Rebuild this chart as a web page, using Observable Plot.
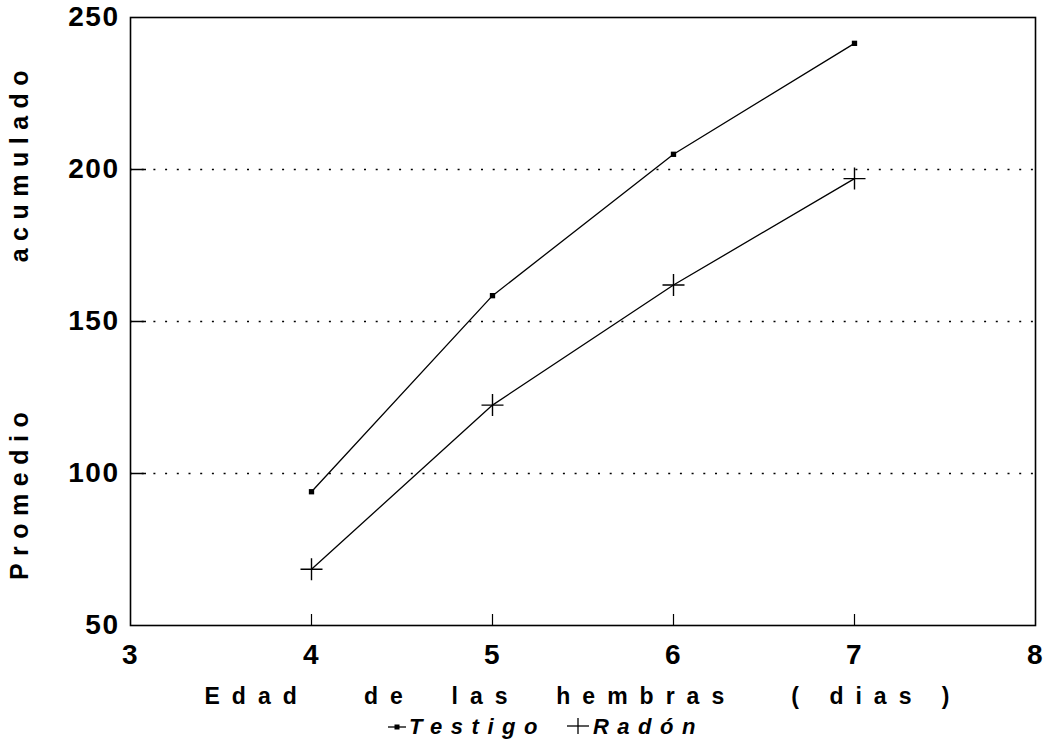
<!DOCTYPE html>
<html>
<head>
<meta charset="utf-8">
<script src="https://cdn.jsdelivr.net/npm/d3@7"></script>
<script src="https://cdn.jsdelivr.net/npm/@observablehq/plot@0.6"></script>
<style>
  html, body { margin: 0; padding: 0; background: #fff; }
  body { width: 1055px; height: 752px; overflow: hidden; font-family: "Liberation Sans", Arial, sans-serif; }
  #chart svg text { white-space: pre; }
  #chart g[aria-label="x-axis label"] text { font-size: 23px; letter-spacing: 12px; }
  #chart g[aria-label="y-axis label"] text { font-size: 25px; letter-spacing: 7.5px; word-spacing: 128px; }
  #chart g[aria-label="y-axis tick label"] text { letter-spacing: 1.5px; }
  #chart g[aria-label="x-axis tick label"] text { letter-spacing: 1.5px; }
  .legend { height: 34px; display: flex; align-items: center; padding-left: 388px; box-sizing: border-box;
            font: italic bold 22px "Liberation Sans", Arial, sans-serif; letter-spacing: 8.5px; color: #000; }
  .legend .item { display: flex; align-items: center; margin-right: 20px; }
  .legend svg { margin-right: 3px; }
</style>
</head>
<body>
<div id="chart"></div>
<div class="legend" id="legend"></div>
<script>
// ---- data ----
const dias = [4, 5, 6, 7];
const testigo = [94, 158.5, 205, 241.5];
const radon = [68.5, 122.5, 162, 197];
const seriesNames = ["Testigo", "Radón"];
const xTicks = [3, 4, 5, 6, 7, 8];
const xInnerTicks = [4, 5, 6, 7];
const yTicks = [50, 100, 150, 200, 250];
const yGrid = [100, 150, 200];
const xLabel = "Edad   de  las  hembras   ( dias )";
const yLabel = "Promedio acumulado";

const rows = [
  ...dias.map((d, i) => ({dia: d, valor: testigo[i], serie: seriesNames[0]})),
  ...dias.map((d, i) => ({dia: d, valor: radon[i], serie: seriesNames[1]}))
];
const testigoRows = rows.filter(r => r.serie === seriesNames[0]);
const radonRows = rows.filter(r => r.serie === seriesNames[1]);

// thin plus symbol
const thinPlus = {
  draw(ctx, size) {
    const r = Math.sqrt(size / Math.PI);
    ctx.moveTo(-r, 0); ctx.lineTo(r, 0);
    ctx.moveTo(0, -r); ctx.lineTo(0, r);
  }
};

const fmt = d3.format("d");

const chart = Plot.plot({
  width: 1055,
  height: 710,
  marginLeft: 130,
  marginRight: 20,
  marginTop: 17,
  marginBottom: 85,
  style: {fontFamily: "'Liberation Sans', Arial, sans-serif", fontWeight: "bold", fontSize: "28px", color: "#000", background: "#fff"},
  x: {domain: [3, 8]},
  y: {domain: [50, 250]},
  marks: [
    Plot.ruleY(yGrid, {stroke: "#000", strokeWidth: 1.6, strokeDasharray: "2,9.7"}),
    Plot.axisY({ticks: yGrid, tickSize: -16, tickFormat: () => "", label: null, strokeWidth: 1.5}),
    Plot.axisX({ticks: xInnerTicks, tickSize: -11, tickFormat: () => "", label: null, strokeWidth: 1.2}),
    Plot.axisY({ticks: yTicks, tickSize: 0, tickPadding: 11, tickFormat: fmt, label: yLabel, labelAnchor: "center", labelArrow: "none", labelOffset: 120}),
    Plot.axisX({ticks: xTicks, tickSize: 0, tickPadding: 19, tickFormat: fmt, label: xLabel, labelAnchor: "center", labelArrow: "none", labelOffset: 78}),
    Plot.frame({stroke: "#000", strokeWidth: 1.6}),
    Plot.line(rows, {x: "dia", y: "valor", z: "serie", stroke: "#000", strokeWidth: 1.3}),
    Plot.dot(testigoRows, {x: "dia", y: "valor", symbol: "square", r: 3, fill: "#000", stroke: "none"}),
    Plot.dot(radonRows, {x: "dia", y: "valor", symbol: thinPlus, r: 11, fill: "none", stroke: "#000", strokeWidth: 1.4})
  ]
});
document.getElementById("chart").appendChild(chart);

// legend
const legend = d3.select("#legend");
const t = legend.append("div").attr("class", "item");
const s1 = t.append("svg").attr("width", 18).attr("height", 12);
s1.append("line").attr("x1", 0).attr("x2", 18).attr("y1", 6).attr("y2", 6).attr("stroke", "#000").attr("stroke-width", 1.3);
s1.append("rect").attr("x", 6.5).attr("y", 3.5).attr("width", 5).attr("height", 5).attr("fill", "#000");
t.append("span").text(seriesNames[0]);
const r = legend.append("div").attr("class", "item");
const s2 = r.append("svg").attr("width", 24).attr("height", 22);
s2.append("line").attr("x1", 1).attr("x2", 23).attr("y1", 10).attr("y2", 10).attr("stroke", "#000").attr("stroke-width", 1.3);
s2.append("line").attr("x1", 12).attr("x2", 12).attr("y1", 2).attr("y2", 18).attr("stroke", "#000").attr("stroke-width", 1.3);
r.append("span").text(seriesNames[1]);
</script>
</body>
</html>
